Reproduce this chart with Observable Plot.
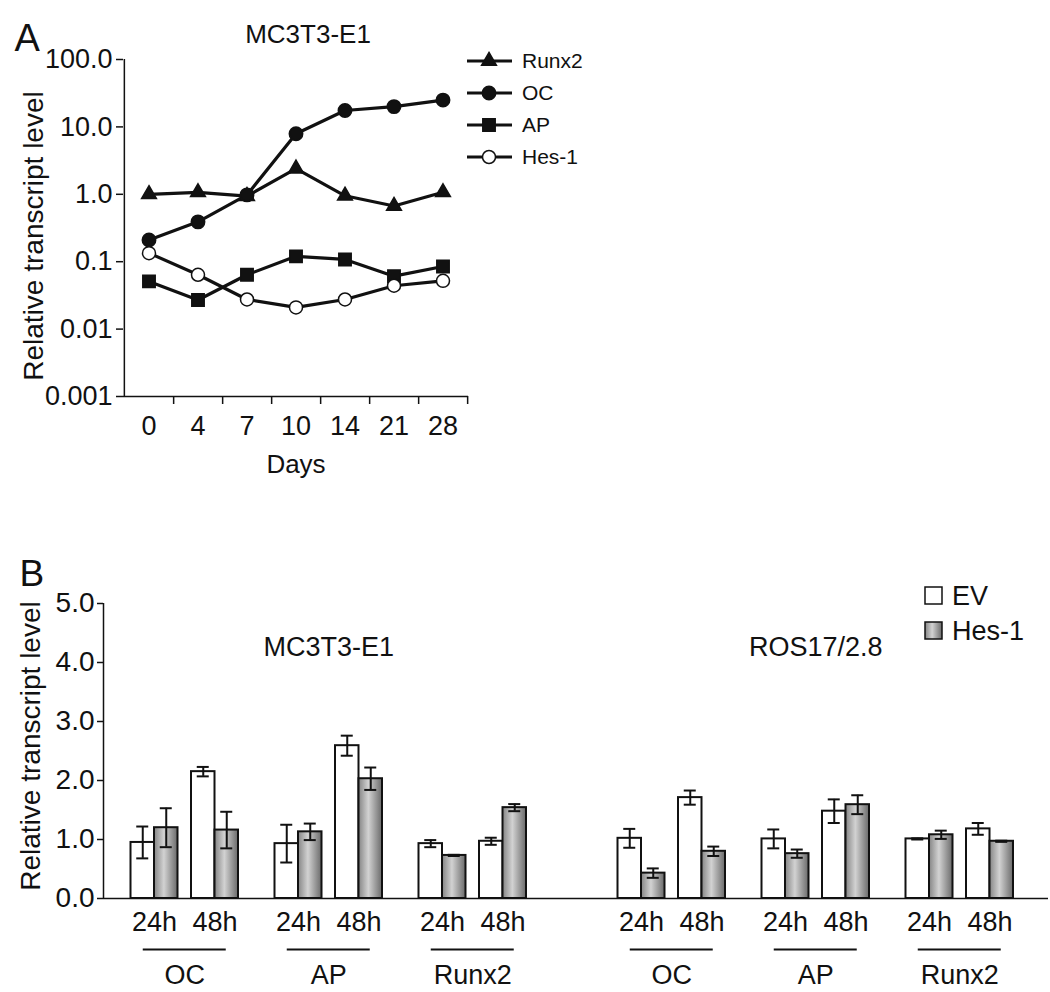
<!DOCTYPE html>
<html>
<head>
<meta charset="utf-8">
<script src="https://cdn.jsdelivr.net/npm/d3@7"></script>
<script src="https://cdn.jsdelivr.net/npm/@observablehq/plot@0.6"></script>
<style>
  html, body { margin: 0; padding: 0; background: #fff; }
  #root { position: relative; width: 1050px; height: 992px; overflow: hidden; background: #fff; }
  #root > div, #root > svg { position: absolute; }
</style>
</head>
<body>
<div id="root"></div>
<script>
// ---------------- DATA ----------------
// Panel A: MC3T3-E1 time course (log scale)
const days = ["0", "4", "7", "10", "14", "21", "28"];
const seriesNamesA = ["Runx2", "OC", "AP", "Hes-1"];
const runx2A = [1.0, 1.07, 0.94, 2.4, 0.95, 0.67, 1.07];
const ocA    = [0.21, 0.39, 0.98, 7.9, 17.5, 20, 25];
const apA    = [0.051, 0.027, 0.064, 0.12, 0.108, 0.061, 0.085];
const hes1A  = [0.134, 0.064, 0.0275, 0.021, 0.0275, 0.044, 0.052];
const yTicksA = [0.001, 0.01, 0.1, 1, 10, 100];
const yTickLabelsA = ["0.001", "0.01", "0.1", "1.0", "10.0", "100.0"];

// Panel B: EV vs Hes-1, order = cell line > gene > time
const cellLines = ["MC3T3-E1", "ROS17/2.8"];
const genesB = ["OC", "AP", "Runx2"];
const times = ["24h", "48h"];
const conditions = ["EV", "Hes-1"];
const evMean  = [0.95, 2.15, 0.93, 2.59, 0.93, 0.97,   1.02, 1.71, 1.01, 1.48, 1.01, 1.18];
const evErr   = [0.27, 0.08, 0.32, 0.17, 0.06, 0.06,   0.16, 0.12, 0.16, 0.20, 0.01, 0.10];
const hesMean = [1.20, 1.16, 1.13, 2.03, 0.73, 1.54,   0.43, 0.80, 0.76, 1.59, 1.08, 0.97];
const hesErr  = [0.33, 0.31, 0.14, 0.19, 0.01, 0.06,   0.08, 0.08, 0.07, 0.16, 0.07, 0.01];
const yTicksB = [0, 1, 2, 3, 4, 5];

// ---------------- STYLE ----------------
const FONT = '"Liberation Sans", Arial, Helvetica, sans-serif';
const INK = "#111";
const root = document.getElementById("root");
const SVGNS = "http://www.w3.org/2000/svg";

function place(node, left, top) {
  const wrap = document.createElement("div");
  wrap.style.left = left + "px";
  wrap.style.top = top + "px";
  wrap.appendChild(node);
  root.appendChild(wrap);
}

// ---------------- PANEL A ----------------
const A = {w: 620, h: 480, ml: 123, mr: 152, mt: 59, mb: 84};
const bandA = (A.w - A.ml - A.mr) / days.length;
const symbolsA = [
  {symbol: d3.symbolTriangle, r: 5.5, fill: INK},
  {symbol: d3.symbolCircle, r: 6.7, fill: INK},
  {symbol: d3.symbolSquare, r: 7.0, fill: INK},
  {symbol: d3.symbolCircle, r: 6.5, fill: "white"}
];
const valuesA = [runx2A, ocA, apA, hes1A];
const rowsA = seriesNamesA.flatMap((name, s) =>
  days.map((day, i) => ({series: name, day, value: valuesA[s][i]})));

const plotA = Plot.plot({
  width: A.w, height: A.h,
  marginLeft: A.ml, marginRight: A.mr, marginTop: A.mt, marginBottom: A.mb,
  style: {fontFamily: FONT, fontSize: "26px", color: INK, background: "transparent", overflow: "visible"},
  x: {type: "band", domain: days, padding: 0, axis: null},
  y: {type: "log", domain: [0.001, 100], axis: null},
  marks: [
    Plot.ruleY([0.001], {stroke: INK, strokeWidth: 1.5}),
    Plot.ruleX([days[0]], {dx: -bandA / 2, stroke: INK, strokeWidth: 1.5}),
    Plot.ruleX(days, {x: d => d, y1: 0.001, y2: 0.001, insetBottom: -8, dx: bandA / 2, stroke: INK, strokeWidth: 1.5}),
    Plot.axisY({ticks: yTicksA, tickFormat: d => yTickLabelsA[yTicksA.indexOf(d)], label: null, tickSize: 7, tickPadding: 4, strokeWidth: 1.5, fontSize: 27}),
    Plot.text(days, {x: d => d, frameAnchor: "bottom", lineAnchor: "middle", dy: 30, text: d => d, fontSize: 27}),
    Plot.text(["Days"], {frameAnchor: "bottom", lineAnchor: "middle", dy: 68, text: d => d, fontSize: 26}),
    Plot.text(["MC3T3-E1"], {frameAnchor: "top", lineAnchor: "bottom", dx: 12, dy: -17, text: d => d, fontSize: 26}),
    Plot.text(["Relative transcript level"], {frameAnchor: "left", textAnchor: "middle", lineAnchor: "middle", rotate: -90, dx: -89, dy: 8, text: d => d, fontSize: 28}),
    Plot.text(["A"], {frameAnchor: "top-left", textAnchor: "start", lineAnchor: "bottom", dx: -109, dy: -9, text: d => d, fontSize: 38}),
    Plot.line(rowsA, {x: "day", y: "value", z: "series", stroke: INK, strokeWidth: 3.2}),
    ...seriesNamesA.map((name, s) => Plot.dot(rowsA.filter(d => d.series === name), {
      x: "day", y: "value", symbol: symbolsA[s].symbol, r: symbolsA[s].r,
      fill: symbolsA[s].fill, stroke: INK, strokeWidth: 1.5
    }))
  ]
});
place(plotA, 0, 0);

// Legend A
const legA = d3.create("svg").attr("width", 160).attr("height", 180)
  .style("font-family", FONT).style("overflow", "visible");
seriesNamesA.forEach((name, s) => {
  const y = 21 + s * 32;
  const g = legA.append("g").attr("transform", `translate(0,${y})`);
  g.append("line").attr("x1", 7).attr("x2", 52).attr("y1", 0).attr("y2", 0)
    .attr("stroke", INK).attr("stroke-width", 3.2);
  g.append("path").attr("transform", "translate(29,0)")
    .attr("d", d3.symbol(symbolsA[s].symbol, Math.PI * symbolsA[s].r ** 2)())
    .attr("fill", symbolsA[s].fill).attr("stroke", INK).attr("stroke-width", 1.5);
  g.append("text").attr("x", 62).attr("y", 0).attr("dy", "0.35em")
    .attr("font-size", 21).attr("fill", INK).text(name);
});
place(legA.node(), 460, 40);

// ---------------- PANEL B ----------------
const B = {w: 1050, h: 512, ml: 103, mr: 2, mt: 123, mb: 94};
const L = {first: 51, time: 60.5, gene: 144, cell: 487, bar: 23.5, cap: 6, underline: 41.5};
const rowsB = [], pairsB = [], genesRowsB = [], cellRowsB = [];
cellLines.forEach((cell, c) => {
  cellRowsB.push({name: cell, center: L.first + c * L.cell + L.gene + L.time / 2});
  genesB.forEach((gene, g) => {
    const base = L.first + c * L.cell + g * L.gene;
    genesRowsB.push({gene, center: base + L.time / 2});
    times.forEach((time, t) => {
      const k = c * genesB.length * times.length + g * times.length + t;
      const center = base + t * L.time;
      pairsB.push({time, center});
      conditions.forEach((cond, s) => {
        const x1 = center + (s - 1) * L.bar;
        rowsB.push({
          cell, gene, time, cond,
          mean: s === 0 ? evMean[k] : hesMean[k],
          err: s === 0 ? evErr[k] : hesErr[k],
          x1, x2: x1 + L.bar, xc: x1 + L.bar / 2
        });
      });
    });
  });
});
const capsB = rowsB.flatMap(d => [{xc: d.xc, y: d.mean - d.err}, {xc: d.xc, y: d.mean + d.err}]);

function gradientDefs(id) {
  const defs = document.createElementNS(SVGNS, "defs");
  defs.innerHTML = `<linearGradient id="${id}" x1="0" x2="1" y1="0" y2="0">
    <stop offset="0" stop-color="#858585"/>
    <stop offset="0.42" stop-color="#d2d2d2"/>
    <stop offset="1" stop-color="#6a6a6a"/>
  </linearGradient>`;
  return defs;
}

const plotB = Plot.plot({
  width: B.w, height: B.h,
  marginLeft: B.ml, marginRight: B.mr, marginTop: B.mt, marginBottom: B.mb,
  style: {fontFamily: FONT, fontSize: "27px", color: INK, background: "transparent", overflow: "visible"},
  x: {type: "linear", domain: [0, B.w - B.ml - B.mr], axis: null},
  y: {domain: [0, 5], axis: null},
  marks: [
    () => gradientDefs("hesGrad"),
    Plot.rectY(rowsB.filter(d => d.cond === "EV"), {x1: "x1", x2: "x2", y1: 0, y2: "mean", fill: "white", stroke: INK, strokeWidth: 2}),
    Plot.rectY(rowsB.filter(d => d.cond === "Hes-1"), {x1: "x1", x2: "x2", y1: 0, y2: "mean", fill: "url(#hesGrad)", stroke: INK, strokeWidth: 2}),
    Plot.ruleX(rowsB, {x: "xc", y1: d => d.mean - d.err, y2: d => d.mean + d.err, stroke: INK, strokeWidth: 2}),
    Plot.ruleY(capsB, {y: "y", x1: d => d.xc - L.cap, x2: d => d.xc + L.cap, stroke: INK, strokeWidth: 2}),
    Plot.ruleY([0], {stroke: INK, strokeWidth: 1.5}),
    Plot.ruleX([0], {stroke: INK, strokeWidth: 1.5}),
    Plot.axisY({ticks: yTicksB, tickFormat: d => d.toFixed(1), label: null, tickSize: 6, tickPadding: 3, strokeWidth: 1.5, fontSize: 28}),
    Plot.text(pairsB, {x: "center", y: 0, dy: 24, lineAnchor: "middle", text: "time", fontSize: 27}),
    Plot.ruleY(genesRowsB, {y: 0, x1: d => d.center - L.underline, x2: d => d.center + L.underline, dy: 51, stroke: INK, strokeWidth: 2}),
    Plot.text(genesRowsB, {x: "center", y: 0, dy: 77, lineAnchor: "middle", text: "gene", fontSize: 27}),
    Plot.text(cellRowsB, {x: "center", frameAnchor: "top", lineAnchor: "middle", dy: 44, text: "name", fontSize: 27}),
    Plot.text(["Relative transcript level"], {frameAnchor: "left", textAnchor: "middle", lineAnchor: "middle", rotate: -90, dx: -72, dy: -5, text: d => d, fontSize: 28}),
    Plot.text(["B"], {frameAnchor: "top-left", textAnchor: "start", lineAnchor: "bottom", dx: -84, dy: -18, text: d => d, fontSize: 37})
  ]
});
place(plotB, 0, 480);

// Legend B
const legB = d3.create("svg").attr("width", 130).attr("height", 70)
  .style("font-family", FONT).style("overflow", "visible");
legB.append(() => gradientDefs("hesGradLeg"));
conditions.forEach((cond, s) => {
  const y = 7 + s * 35;
  legB.append("rect").attr("x", 5).attr("y", y).attr("width", 17).attr("height", 17)
    .attr("fill", s === 0 ? "white" : "url(#hesGradLeg)").attr("stroke", INK).attr("stroke-width", 1.5);
  legB.append("text").attr("x", 32).attr("y", y + 8.5).attr("dy", "0.35em")
    .attr("font-size", 27).attr("fill", INK).text(cond);
});
place(legB.node(), 920, 580);
</script>
</body>
</html>
